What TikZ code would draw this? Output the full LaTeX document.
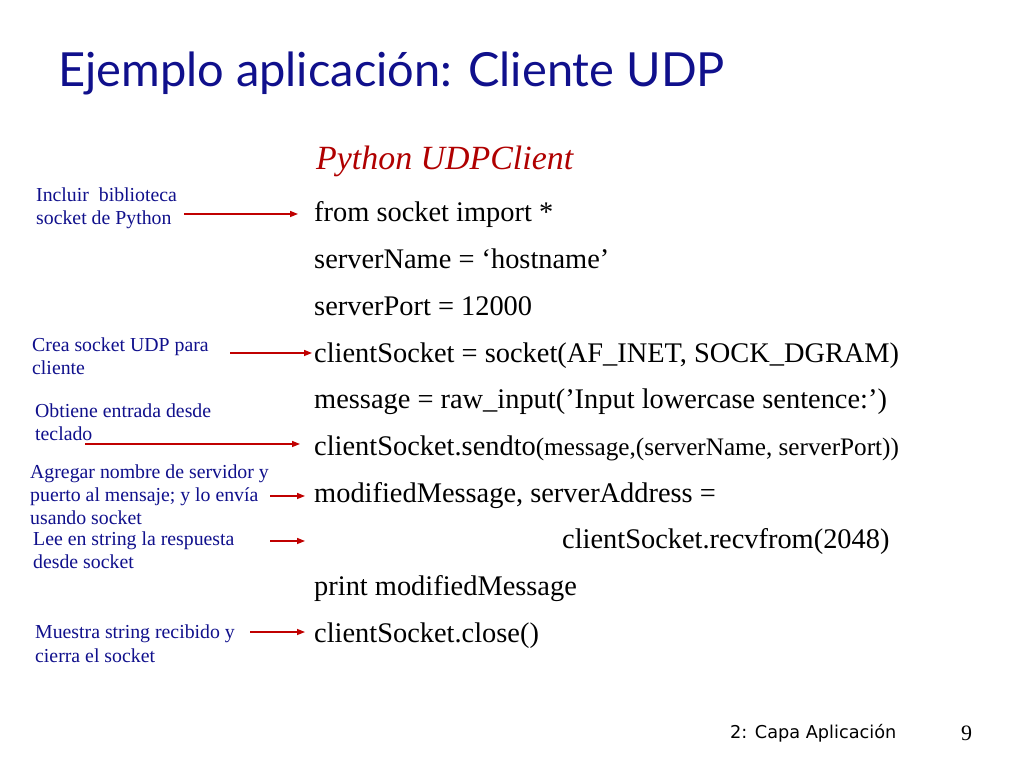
\documentclass[tikz,border=0pt]{standalone}
\usepackage{fontspec}
\setmainfont{Liberation Serif}
\newfontfamily\titlefont{Lato}
\newfontfamily\footfont{DejaVu Sans}
\usetikzlibrary{positioning,arrows.meta}
\definecolor{navy}{RGB}{16,16,140}
\definecolor{darkred}{RGB}{176,0,0}
\definecolor{arrred}{RGB}{192,0,0}

\begin{document}
\begin{tikzpicture}[x=1pt,y=1pt,
		every node/.style={on grid, inner sep=0pt},
		code/.style={anchor=base west, font=\fontsize{28.4}{34}\selectfont},
		note/.style={anchor=base west, align=left, text=navy, font=\fontsize{19.8}{23.1}\selectfont},
		arr/.style={draw=arrred, line width=1.4pt, -{Triangle[length=8pt,width=6pt]}},
		node distance=46.7pt]
	\useasboundingbox[fill=white] (0,0) rectangle (1024,768);
	
	\node[anchor=base west, text=navy, font=\titlefont\fontsize{47}{56}\selectfont] (title) at (58,681) {Ejemplo aplicación: Cliente UDP};
	\node[anchor=base west, text=darkred, font=\fontsize{33.9}{40}\selectfont\itshape] (head) at (316,598) {Python UDPClient};
	
	% code lines
	\node[code] (l1) at (314,546) {from socket import *};
	\node[code,below= of l1.base west, anchor=base west] (l2) {serverName = ‘hostname’};
	\node[code,below= of l2.base west, anchor=base west] (l3) {serverPort = 12000};
	\node[code,below= of l3.base west, anchor=base west] (l4) {clientSocket = socket(AF\_INET, SOCK\_DGRAM)};
	\node[code,below= of l4.base west, anchor=base west] (l5) {message = raw\_input(’Input lowercase sentence:’)};
	\node[code,below= of l5.base west, anchor=base west] (l6) {clientSocket.sendto{\fontsize{25.2}{30}\selectfont(message,(serverName, serverPort))}};
	\node[code,below= of l6.base west, anchor=base west] (l7) {modifiedMessage, serverAddress =};
	\node[code,below= of l7.base west, anchor=base west, xshift=248pt] (l8) {clientSocket.recvfrom(2048)};
	\node[code,below= of l7.base west, anchor=base west, yshift=-46.7pt] (l9) {print modifiedMessage};
	\node[code,below= of l9.base west, anchor=base west] (l10) {clientSocket.close()};
	
	% notes on the left (base = last line)
	\node[note] (n1) at (36,543) {Incluir\ \ biblioteca\\socket de Python};
	\node[note] (n2) at (32,393) {Crea socket UDP para\\cliente};
	\node[note] (n3) at (35,327) {Obtiene entrada desde\\teclado};
	\node[note] (n4) at (30,243) {Agregar nombre de servidor y\\puerto al mensaje; y lo envía\\usando socket};
	\node[note] (n5) at (33,199) {Lee en string la respuesta\\desde socket};
	\node[note] (n6) at (35,106) {Muestra string recibido y\\cierra el socket};
	
	\coordinate (s1) at (184,554); \coordinate (e1) at (298,554);
	\coordinate (s2) at (230,415); \coordinate (e2) at (312,415);
	\coordinate (s3) at (85,324);  \coordinate (e3) at (300,324);
	\coordinate (s4) at (270,272); \coordinate (e4) at (305,272);
	\coordinate (s5) at (270,227); \coordinate (e5) at (305,227);
	\coordinate (s6) at (250,136); \coordinate (e6) at (305,136);
	\foreach \i in {1,...,6}
		\draw[arr] (s\i) -- (e\i);
	
	% footer
	\node[anchor=base west, font=\footfont\fontsize{17.7}{21}\selectfont] (foot) at (730,30) {2: Capa Aplicación};
	\node[anchor=base west, font=\fontsize{22}{26}\selectfont] (page) at (961,28) {9};
\end{tikzpicture}
\end{document}
